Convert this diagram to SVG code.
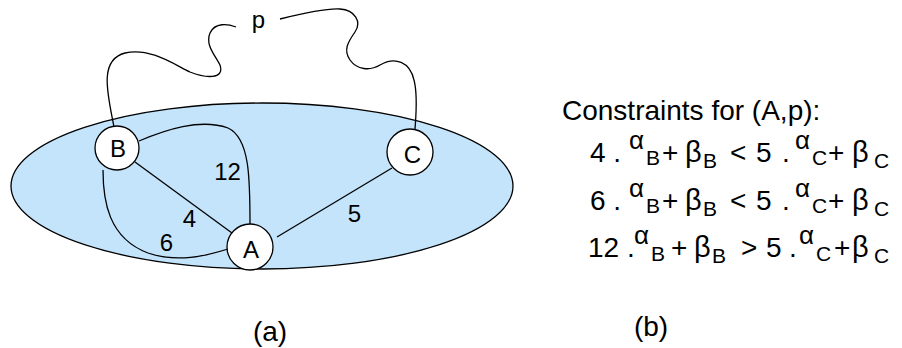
<svg xmlns="http://www.w3.org/2000/svg" width="902" height="348" viewBox="0 0 902 348">
<style>
text{font-family:"Liberation Sans",Arial,sans-serif;fill:#000}
.lbl{font-size:24px;text-anchor:middle}
.big{font-size:28px}
.beta{font-size:29px}
.sup{font-size:26px}
.sub{font-size:21px}
.edge{fill:none;stroke:#000;stroke-width:1.3}
.node circle{fill:#fff;stroke:#000;stroke-width:1.3}
</style>
<rect width="902" height="348" fill="#fff"/>
<ellipse id="region" cx="262" cy="186" rx="251" ry="83" fill="#C4E4FB" stroke="#000" stroke-width="1.3"/>
<g id="connectors">
<path class="edge" d="M114,127 C108,95 98,60 125,53 C150,47 175,65 190,72 C205,78 225,80 220,65 C215,55 205,45 210,33 C215,22 228,24 236,27"/>
<path class="edge" d="M280,19 C300,14 325,8 340,9 C355,10 362,22 355,32 C348,42 343,50 350,60 C357,70 370,71 380,65 C395,56 410,62 414,80 C418,95 416,115 415,129"/>
<line class="edge" x1="135" y1="162" x2="232" y2="233"/>
<path class="edge" d="M139,141 C165,130 200,118 228,128 C250,138 250,180 250,224"/>
<path class="edge" d="M103,170 C103,200 108,238 148,253 C178,263 205,256 228,249"/>
<line class="edge" x1="277" y1="237" x2="392" y2="168"/>
<text class="lbl" x="258.5" y="28" font-size="25">p</text>
<text class="lbl" x="227.5" y="180">12</text>
<text class="lbl" x="189.5" y="227">4</text>
<text class="lbl" x="166.5" y="251">6</text>
<text class="lbl" x="354.5" y="222">5</text>
</g>
<g id="B" class="node"><circle cx="117" cy="148" r="22"/><text class="lbl" x="118" y="157">B</text></g>
<g id="C" class="node"><circle cx="410" cy="152" r="23"/><text class="lbl" x="412.5" y="163">C</text></g>
<g id="A" class="node"><circle cx="250" cy="247" r="23"/><text class="lbl" x="251" y="258">A</text></g>
<g id="constraints">
<text class="big" x="562" y="120">Constraints for (A,p):</text>
<text class="big" x="590" y="162">4 .</text><text class="sup" x="629" y="149">α</text><text class="sub" x="646" y="165">B</text><text class="big" x="662" y="162">+</text><text class="beta" x="685" y="162">β</text><text class="sub" x="703" y="168">B</text><text class="big" x="730" y="162">&lt;</text><text class="big" x="756" y="162">5</text><text class="big" x="782" y="162">.</text><text class="sup" x="795" y="149">α</text><text class="sub" x="812" y="165">C</text><text class="big" x="828" y="162">+</text><text class="beta" x="852" y="162">β</text><text class="sub" x="874" y="168">C</text>
<text class="big" x="590" y="210">6 .</text><text class="sup" x="629" y="197">α</text><text class="sub" x="646" y="213">B</text><text class="big" x="662" y="210">+</text><text class="beta" x="685" y="210">β</text><text class="sub" x="703" y="216">B</text><text class="big" x="730" y="210">&lt;</text><text class="big" x="756" y="210">5</text><text class="big" x="782" y="210">.</text><text class="sup" x="795" y="197">α</text><text class="sub" x="812" y="213">C</text><text class="big" x="828" y="210">+</text><text class="beta" x="852" y="210">β</text><text class="sub" x="874" y="216">C</text>
<text class="big" x="588" y="257">12 .</text><text class="sup" x="634" y="244">α</text><text class="sub" x="651" y="261">B</text><text class="big" x="671" y="257">+</text><text class="beta" x="694" y="257">β</text><text class="sub" x="712" y="263">B</text><text class="big" x="741" y="257">&gt;</text><text class="big" x="766" y="257">5</text><text class="big" x="789" y="257">.</text><text class="sup" x="799" y="244">α</text><text class="sub" x="816" y="261">C</text><text class="big" x="834" y="257">+</text><text class="beta" x="852" y="257">β</text><text class="sub" x="874" y="263">C</text>
</g>
<text class="big" x="270" y="341" text-anchor="middle">(a)</text>
<text class="big" x="651" y="336" text-anchor="middle">(b)</text>
</svg>
